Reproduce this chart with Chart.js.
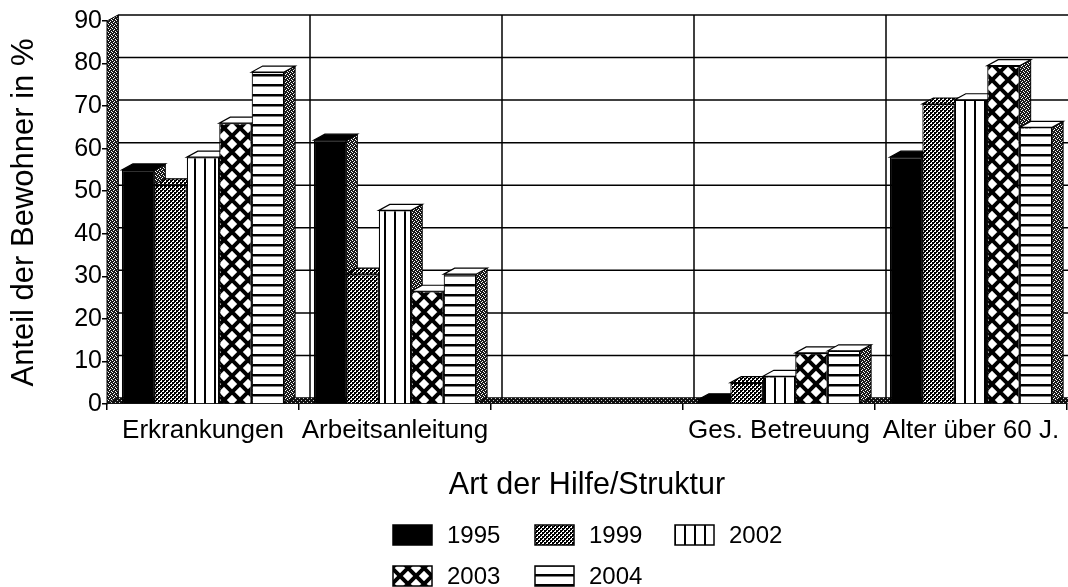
<!DOCTYPE html>
<html>
<head>
<meta charset="utf-8">
<script src="https://cdn.jsdelivr.net/npm/chart.js@4.4.1/dist/chart.umd.min.js"></script>
<style>
html,body{margin:0;padding:0;background:#fff;}
#wrap{width:1068px;height:587px;}
</style>
</head>
<body>
<div id="wrap"><canvas id="c" width="1068" height="587"></canvas></div>
<script>
// ---- data ----
const categories = ['Erkrankungen', 'Arbeitsanleitung', '', 'Ges. Betreuung', 'Alter über 60 J.'];
const seriesNames = ['1995', '1999', '2002', '2003', '2004'];
const values1995 = [55, 62, 0, 1, 58];
const values1999 = [51.5, 30.5, 0, 5, 70.5];
const values2002 = [58, 45.5, 0, 6.5, 71.5];
const values2003 = [66, 26.5, 0, 12, 79.5];
const values2004 = [78, 30.5, 0, 12.5, 65];
const yTickValues = [0, 10, 20, 30, 40, 50, 60, 70, 80, 90];
const yTitle = 'Anteil der Bewohner in %';
const xTitle = 'Art der Hilfe/Struktur';

// ---- patterns ----
const FONT = "'Liberation Sans', Arial, sans-serif";
const helperCtx = document.createElement('canvas').getContext('2d');
function makePattern(w, h, draw) {
  const c = document.createElement('canvas');
  c.width = w; c.height = h;
  const g = c.getContext('2d');
  draw(g, w, h);
  return helperCtx.createPattern(c, 'repeat');
}
const patSolid = '#000';
const patChecker = makePattern(4, 4, (g) => {
  g.fillStyle = '#000'; g.fillRect(0, 0, 4, 4);
  g.fillStyle = '#fff'; g.fillRect(0, 0, 2, 2); g.fillRect(2, 2, 2, 2);
  g.fillStyle = '#000'; g.fillRect(0, 0, 1, 1); g.fillRect(2, 2, 1, 1);
});
const patVLines = makePattern(10, 10, (g) => {
  g.fillStyle = '#fff'; g.fillRect(0, 0, 10, 10);
  g.fillStyle = '#000'; g.fillRect(4, 0, 2, 10);
});
const patCross = makePattern(16, 16, (g) => {
  g.fillStyle = '#fff'; g.fillRect(0, 0, 16, 16);
  g.strokeStyle = '#000'; g.lineWidth = 4;
  g.beginPath();
  g.moveTo(-2, -2); g.lineTo(18, 18);
  g.moveTo(18, -2); g.lineTo(-2, 18);
  g.stroke();
});
const patHLines = makePattern(10, 10, (g) => {
  g.fillStyle = '#fff'; g.fillRect(0, 0, 10, 10);
  g.fillStyle = '#000'; g.fillRect(0, 4, 10, 2.5);
});
const patSide = makePattern(4, 4, (g) => {
  g.fillStyle = '#1a1a1a'; g.fillRect(0, 0, 4, 4);
  g.fillStyle = '#fff';
  g.fillRect(0, 0, 1, 1); g.fillRect(2, 1, 1, 1); g.fillRect(1, 2, 1, 1); g.fillRect(3, 3, 1, 1);
});
const patFloor = makePattern(4, 4, (g) => {
  g.fillStyle = '#111'; g.fillRect(0, 0, 4, 4);
  g.fillStyle = '#ccc';
  g.fillRect(1, 0, 1, 1); g.fillRect(3, 2, 1, 1);
});

const fills = [patSolid, patChecker, patVLines, patCross, patHLines];
const topFills = [patSolid, patChecker, '#fff', '#fff', '#fff'];
const seriesValues = [values1995, values1999, values2002, values2003, values2004];

// ---- 3D decoration plugin ----
const DX = 11, DY = 6;
function poly(ctx, pts, fill, stroke, lw) {
  ctx.beginPath();
  ctx.moveTo(pts[0][0], pts[0][1]);
  for (let i = 1; i < pts.length; i++) ctx.lineTo(pts[i][0], pts[i][1]);
  ctx.closePath();
  if (fill) { ctx.fillStyle = fill; ctx.fill(); }
  if (stroke) { ctx.strokeStyle = stroke; ctx.lineWidth = lw || 1; ctx.stroke(); }
}
const threeD = {
  id: 'threeD',
  beforeDatasetsDraw(chart) {
    const ctx = chart.ctx;
    const { left, right, top, bottom } = chart.chartArea;
    const xs = chart.scales.x, ys = chart.scales.y;
    const step = xs.getPixelForValue(1) - xs.getPixelForValue(0);
    ctx.save();
    ctx.strokeStyle = '#000';
    ctx.lineWidth = 1.5;
    yTickValues.forEach(v => {
      const py = ys.getPixelForValue(v) - DY;
      ctx.beginPath(); ctx.moveTo(left + DX, py); ctx.lineTo(right + DX, py); ctx.stroke();
    });
    for (let i = 0; i < categories.length; i++) {
      const px = xs.getPixelForValue(i) - step / 2 + DX;
      ctx.beginPath(); ctx.moveTo(px, top - DY); ctx.lineTo(px, bottom - DY); ctx.stroke();
    }
    poly(ctx, [[left, bottom], [right, bottom], [right + DX, bottom - DY], [left + DX, bottom - DY]], patFloor, null);
    poly(ctx, [[left, top], [left + DX, top - DY], [left + DX, bottom - DY], [left, bottom]], patSide, '#000', 1);
    const metas = chart.data.datasets.map((d, i) => chart.getDatasetMeta(i));
    metas.forEach((meta, di) => {
      meta.data.forEach((bar, j) => {
        if (!(seriesValues[di][j] > 0)) return;
        const p = bar.getProps(['x', 'y', 'base', 'width'], true);
        const xr = p.x + p.width / 2;
        poly(ctx, [[xr, p.y], [xr + DX, p.y - DY], [xr + DX, p.base - DY], [xr, p.base]], patSide, '#000', 1);
      });
    });
    metas.forEach((meta, di) => {
      meta.data.forEach((bar, j) => {
        if (!(seriesValues[di][j] > 0)) return;
        const p = bar.getProps(['x', 'y', 'base', 'width'], true);
        const xl = p.x - p.width / 2, xr = p.x + p.width / 2;
        poly(ctx, [[xl, p.y], [xr, p.y], [xr + DX, p.y - DY], [xl + DX, p.y - DY]], topFills[di], '#000', 1.2);
      });
    });
    ctx.restore();
  },
  afterDraw(chart) {
    const ctx = chart.ctx;
    const cols = [393, 535, 675];
    const rows = [535, 576];
    ctx.save();
    ctx.font = '24px ' + FONT;
    ctx.textBaseline = 'middle';
    ctx.textAlign = 'left';
    chart.data.datasets.forEach((ds, i) => {
      const cx = cols[i % 3], cy = rows[Math.floor(i / 3)];
      const bw = 39, bh = 20;
      ctx.fillStyle = ds.backgroundColor;
      ctx.fillRect(cx, cy - bh / 2, bw, bh);
      ctx.strokeStyle = '#000'; ctx.lineWidth = 1.5;
      ctx.strokeRect(cx, cy - bh / 2, bw, bh);
      ctx.fillStyle = '#000';
      ctx.fillText(ds.label, cx + 54, cy + 1);
    });
    ctx.restore();
  }
};

const datasets = seriesNames.map((name, i) => ({
  label: name,
  data: seriesValues[i],
  backgroundColor: fills[i],
  borderColor: '#000',
  borderWidth: 1.2,
  barPercentage: 1.0,
  categoryPercentage: 0.845
}));

new Chart(document.getElementById('c'), {
  type: 'bar',
  data: { labels: categories, datasets },
  plugins: [threeD],
  options: {
    responsive: false,
    animation: false,
    layout: { padding: { top: 21, right: 1, bottom: 70, left: 0 } },
    plugins: { legend: { display: false }, tooltip: { enabled: false } },
    scales: {
      x: {
        offset: true,
        grid: { display: true, drawOnChartArea: false, drawTicks: true, tickLength: 6, color: '#000', lineWidth: 1.5, offset: true },
        border: { display: false },
        ticks: { font: { family: FONT, size: 26 }, color: '#000', padding: 5, maxRotation: 0, autoSkip: false },
        title: { display: true, text: xTitle, color: '#000', font: { family: FONT, size: 30.5 }, padding: { top: 0, bottom: 13 } },
        afterFit: (s) => { s.height = 113; }
      },
      y: {
        min: 0, max: 90,
        afterBuildTicks: (s) => { s.ticks = yTickValues.map(v => ({ value: v })); },
        grid: { display: true, drawOnChartArea: false, drawTicks: true, tickLength: 5, color: '#000', lineWidth: 1.5 },
        border: { display: false },
        ticks: { font: { family: FONT, size: 25 }, color: '#000', padding: 0 },
        title: { display: true, text: yTitle, color: '#000', font: { family: FONT, size: 31 }, padding: { top: 6, bottom: 0 } },
        afterFit: (s) => { s.width = 107; }
      }
    }
  }
});
</script>
</body>
</html>
